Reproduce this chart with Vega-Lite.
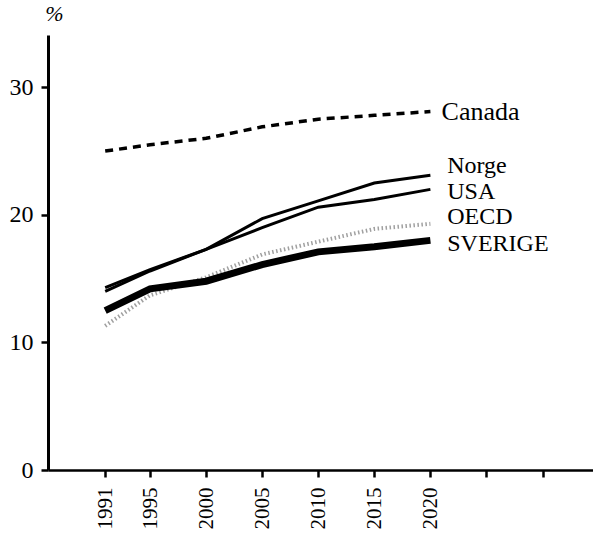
{
  "$schema": "https://vega.github.io/schema/vega-lite/v6.json",
  "width": 545,
  "height": 435,
  "autosize": "none",
  "padding": {"left": 48, "top": 35, "right": 0, "bottom": 66},
  "background": "white",
  "config": {"view": {"stroke": null}, "font": "Liberation Serif"},
  "datasets": {
    "series": [
      {"land": "Canada", "year": 1991, "value": 25.0},
      {"land": "Canada", "year": 1995, "value": 25.5},
      {"land": "Canada", "year": 2000, "value": 26.0},
      {"land": "Canada", "year": 2005, "value": 26.9},
      {"land": "Canada", "year": 2010, "value": 27.5},
      {"land": "Canada", "year": 2015, "value": 27.8},
      {"land": "Canada", "year": 2020, "value": 28.1},
      {"land": "Norge", "year": 1991, "value": 14.0},
      {"land": "Norge", "year": 1995, "value": 15.6},
      {"land": "Norge", "year": 2000, "value": 17.3},
      {"land": "Norge", "year": 2005, "value": 19.7},
      {"land": "Norge", "year": 2010, "value": 21.1},
      {"land": "Norge", "year": 2015, "value": 22.5},
      {"land": "Norge", "year": 2020, "value": 23.1},
      {"land": "USA", "year": 1991, "value": 14.3},
      {"land": "USA", "year": 1995, "value": 15.7},
      {"land": "USA", "year": 2000, "value": 17.3},
      {"land": "USA", "year": 2005, "value": 19.0},
      {"land": "USA", "year": 2010, "value": 20.6},
      {"land": "USA", "year": 2015, "value": 21.2},
      {"land": "USA", "year": 2020, "value": 22.0},
      {"land": "OECD", "year": 1991, "value": 11.3},
      {"land": "OECD", "year": 1995, "value": 13.7},
      {"land": "OECD", "year": 2000, "value": 15.1},
      {"land": "OECD", "year": 2005, "value": 16.9},
      {"land": "OECD", "year": 2010, "value": 17.9},
      {"land": "OECD", "year": 2015, "value": 18.9},
      {"land": "OECD", "year": 2020, "value": 19.3},
      {"land": "SVERIGE", "year": 1991, "value": 12.5},
      {"land": "SVERIGE", "year": 1995, "value": 14.2},
      {"land": "SVERIGE", "year": 2000, "value": 14.8},
      {"land": "SVERIGE", "year": 2005, "value": 16.1},
      {"land": "SVERIGE", "year": 2010, "value": 17.1},
      {"land": "SVERIGE", "year": 2015, "value": 17.5},
      {"land": "SVERIGE", "year": 2020, "value": 18.0}
    ],
    "labels": [
      {"land": "Norge", "year": 2021.5, "value": 23.8},
      {"land": "USA", "year": 2021.5, "value": 21.8},
      {"land": "OECD", "year": 2021.5, "value": 19.8},
      {"land": "SVERIGE", "year": 2021.5, "value": 17.7}
    ],
    "canada": [
      {"land": "Canada", "year": 2021.0, "value": 28.1}
    ]
  },
  "encoding": {
    "x": {
      "field": "year", "type": "quantitative",
      "scale": {"domain": [1985.9, 2034.5], "nice": false, "zero": false},
      "axis": {
        "values": [1991, 1995, 2000, 2005, 2010, 2015, 2020, 2025, 2030],
        "labelExpr": "datum.value <= 2020 ? toString(datum.value) : ''",
        "title": null, "grid": false,
        "labelAngle": -90, "labelAlign": "right", "labelBaseline": "middle",
        "labelFontSize": 21, "labelColor": "black", "labelPadding": 10,
        "tickSize": 7, "tickWidth": 2.5, "tickColor": "black",
        "domainColor": "black", "domainWidth": 2.5, "labelFlush": false
      }
    },
    "y": {
      "field": "value", "type": "quantitative",
      "scale": {"domain": [0, 34.1], "nice": false},
      "axis": {
        "values": [0, 10, 20, 30],
        "title": "%", "titleAngle": 0, "titleX": 6, "titleY": -10,
        "titleFontSize": 22, "titleFontWeight": "normal", "titleFontStyle": "italic", "titleColor": "black",
        "titleAlign": "center", "titleBaseline": "bottom",
        "grid": false, "labelFontSize": 24, "labelColor": "black", "labelPadding": 8,
        "tickSize": 7, "tickWidth": 2.5, "tickColor": "black",
        "domainColor": "black", "domainWidth": 3
      }
    }
  },
  "layer": [
    {
      "data": {"name": "series"},
      "transform": [{"filter": "datum.land == 'Canada'"}],
      "mark": {"type": "line", "color": "black", "strokeWidth": 3.5, "strokeDash": [8, 6], "strokeCap": "butt"}
    },
    {
      "data": {"name": "series"},
      "transform": [{"filter": "datum.land == 'OECD'"}],
      "mark": {"type": "line", "color": "#a0a0a0", "strokeWidth": 4, "strokeDash": [1.5, 2.5], "strokeCap": "butt"}
    },
    {
      "data": {"name": "series"},
      "transform": [{"filter": "datum.land == 'SVERIGE'"}],
      "mark": {"type": "line", "color": "black", "strokeWidth": 7, "strokeCap": "butt"}
    },
    {
      "data": {"name": "series"},
      "transform": [{"filter": "datum.land == 'Norge'"}],
      "mark": {"type": "line", "color": "black", "strokeWidth": 3}
    },
    {
      "data": {"name": "series"},
      "transform": [{"filter": "datum.land == 'USA'"}],
      "mark": {"type": "line", "color": "black", "strokeWidth": 3}
    },
    {
      "data": {"name": "labels"},
      "mark": {"type": "text", "align": "left", "baseline": "middle", "fontSize": 24, "color": "black", "font": "Liberation Serif"},
      "encoding": {
        "text": {"field": "land"}
      }
    },
    {
      "data": {"name": "canada"},
      "mark": {"type": "text", "align": "left", "baseline": "middle", "fontSize": 26, "color": "black", "font": "Liberation Serif"},
      "encoding": {
        "text": {"field": "land"}
      }
    }
  ]
}
